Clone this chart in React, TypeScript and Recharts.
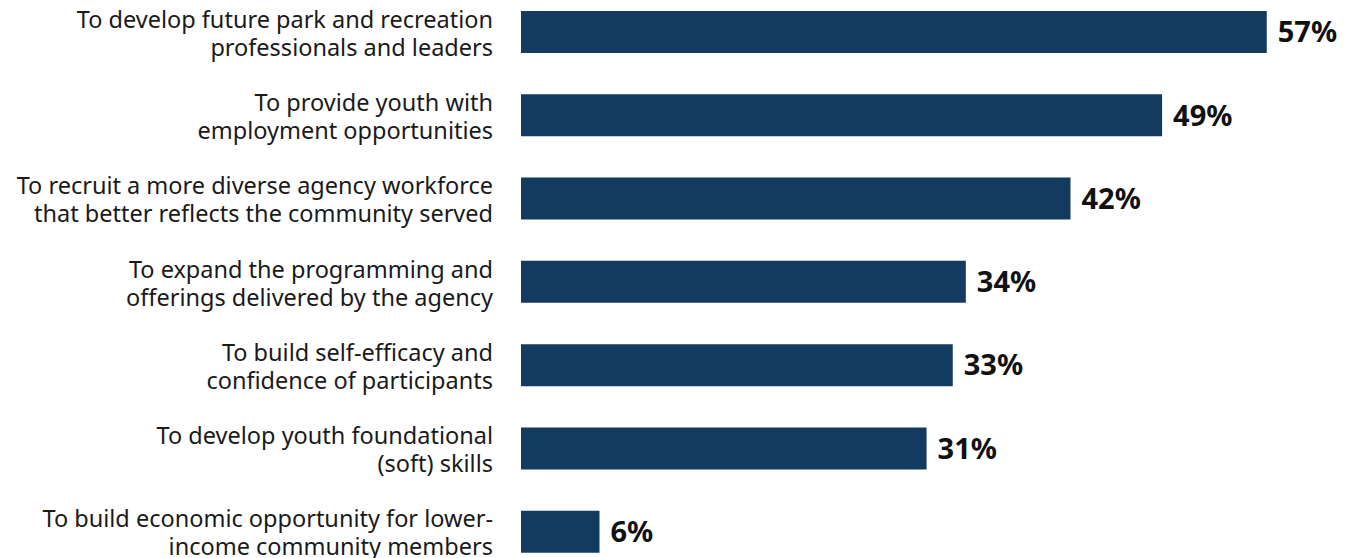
import React from 'react'
import { BarChart, Bar, XAxis, YAxis, LabelList } from 'recharts'

const categories = [
  ['To develop future park and recreation', 'professionals and leaders'],
  ['To provide youth with', 'employment opportunities'],
  ['To recruit a more diverse agency workforce', 'that better reflects the community served'],
  ['To expand the programming and', 'offerings delivered by the agency'],
  ['To build self-efficacy and', 'confidence of participants'],
  ['To develop youth foundational', '(soft) skills'],
  ['To build economic opportunity for lower-', 'income community members'],
]
const values = [57, 49, 42, 34, 33, 31, 6]

const data = categories.map((lines, i) => ({ name: lines.join('\n'), value: values[i] }))

const CategoryTick = (props: any) => {
  const { x, y, payload } = props
  const lines: string[] = String(payload.value).split('\n')
  return (
    <text x={x} y={y} textAnchor="end" fill="#1a1a1a" fontSize={23.5} fontFamily="'Noto Sans', sans-serif">
      {lines.map((l, i) => (
        <tspan key={i} x={x} dy={i === 0 ? -4 : 28}>{l}</tspan>
      ))}
    </text>
  )
}

export default function App() {
  return (
    <div style={{ position: 'absolute', left: 0, top: 0, width: 1351, height: 558, overflow: 'hidden', background: '#fff' }}>
      <div style={{ marginTop: -10 }}>
        <BarChart
          width={1351}
          height={583}
          data={data}
          layout="vertical"
          margin={{ top: 0, right: 45, bottom: 0, left: 0 }}
          barSize={42}
        >
          <XAxis type="number" domain={[0, 60]} hide />
          <YAxis
            type="category"
            dataKey="name"
            width={521}
            axisLine={false}
            tickLine={false}
            tickSize={0}
            tickMargin={28}
            tick={<CategoryTick />}
            interval={0}
          />
          <Bar dataKey="value" fill="#133B60" isAnimationActive={false}>
            <LabelList
              dataKey="value"
              position="right"
              offset={11}
              formatter={(v: any) => `${v}%`}
              fill="#111"
              fontSize={29}
              fontWeight={700}
              fontFamily="'Noto Sans', sans-serif"
            />
          </Bar>
        </BarChart>
      </div>
    </div>
  )
}
